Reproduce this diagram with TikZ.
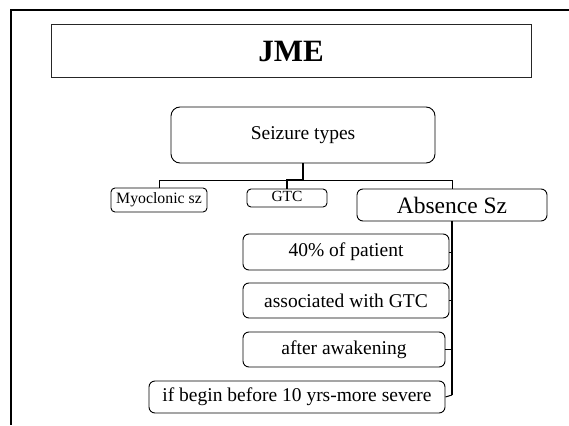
\documentclass[tikz,border=0pt]{standalone}
\usepackage{fontspec}
\setmainfont{Liberation Serif}
\begin{document}
\begin{tikzpicture}[x=1pt,y=-1pt,
  box/.style={draw=black, line width=0.9pt, rounded corners=#1, inner sep=0pt, align=center, anchor=center},
  box/.default=6pt,
  thinln/.style={line width=1pt},
  thickln/.style={line width=2.4pt}]
\useasboundingbox (0,0) rectangle (569,425);
% outer frame
\coordinate (ftr) at (569,10);
\coordinate (ftl) at (11,10);
\coordinate (fbl) at (11,425);
\draw[line width=2.2pt] (ftr) -- (ftl) -- (fbl);
% title
\node[draw=black!85, line width=1pt, inner sep=0pt, minimum width=480pt, minimum height=53pt] (title) at (291,51.5) {\fontsize{31}{34}\selectfont\bfseries JME};
% main
\node[box=9pt, minimum width=264pt, minimum height=56pt] (seiz) at (303,135) {\fontsize{19.5}{22}\selectfont Seizure types};
\node[box=4pt, minimum width=96pt, minimum height=24pt] (myo) at (159,200) {\fontsize{15.8}{18}\selectfont Myoclonic sz};
\node[box=4pt, minimum width=80pt, minimum height=18pt] (gtc) at (287,198) {\raisebox{3pt}{\fontsize{15.5}{17}\selectfont GTC}};
\node[box=6pt, minimum width=190pt, minimum height=32pt] (abs) at (452,205) {\fontsize{23.5}{26}\selectfont Absence Sz};
% sub boxes
\node[box=6pt, minimum width=206pt, minimum height=36pt] (p40) at (346,252) {\fontsize{19.5}{22}\selectfont 40\% of patient};
\node[box=6pt, minimum width=206pt, minimum height=35pt] (assoc) at (346,300.5) {\fontsize{19.5}{22}\selectfont associated with GTC};
\node[box=6pt, minimum width=202pt, minimum height=35pt] (after) at (344,349.5) {\fontsize{19.5}{22}\selectfont after awakening};
\node[box=6pt, minimum width=296pt, minimum height=32pt] (ifb) at (297,397) {\fontsize{19.5}{22}\selectfont if begin before 10 yrs-more severe};
% connectors
\coordinate (bus) at (303,180);
\draw[thinln] (bus) -| (myo.north);
\draw[thinln] (bus) -| (abs.north);
\draw[thickln] (seiz.south) -- (bus) -| (gtc.north);
\coordinate (vend) at (452,395);
\draw[thickln] (abs.south) -- (vend);
\draw[thinln] (vend) -- (ifb.east);
\draw[thinln] (p40.east) -- (p40.east -| abs.south);
\draw[thinln] (assoc.east) -- (assoc.east -| abs.south);
\draw[thinln] (after.east) -- (after.east -| abs.south);
\end{tikzpicture}
\end{document}
